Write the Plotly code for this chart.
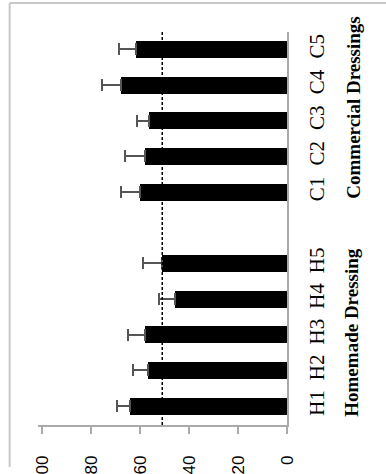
import plotly.graph_objects as go

# Sample groups and their mean scores with upper error (SD)
homemade_labels = ["H1", "H2", "H3", "H4", "H5"]
homemade_values = [64.3, 57.0, 58.2, 45.6, 51.1]
homemade_errors = [5.4, 6.1, 6.7, 6.7, 7.9]

commercial_labels = ["C1", "C2", "C3", "C4", "C5"]
commercial_values = [60.0, 58.2, 56.4, 67.9, 61.9]
commercial_errors = [7.9, 8.1, 5.1, 7.9, 6.8]

reference_level = 51.0
value_ticks = [0, 20, 40, 60, 80, 100]

# Positions: homemade 0..4, a blank slot, commercial 6..10
labels = homemade_labels + commercial_labels
positions = list(range(len(homemade_labels))) + [
    len(homemade_labels) + 1 + i for i in range(len(commercial_labels))
]
values = homemade_values + commercial_values
errors = homemade_errors + commercial_errors

W, H = 386, 474
L, R, T, B = 38.3, 286.7, 32, 425
pw, ph = R - L, B - T


def px(x):
    return (x - L) / pw


def py(y):
    return (B - y) / ph


fig = go.Figure()
fig.add_trace(go.Bar(
    x=values,
    y=positions,
    orientation="h",
    width=0.48,
    marker=dict(color="black", line=dict(width=0)),
    error_x=dict(type="data", array=errors, arrayminus=[0] * len(errors),
                 symmetric=False, color="#555555", thickness=2, width=6),
    showlegend=False,
))

# Dashed reference line across the full category span
fig.add_shape(type="line", xref="x", yref="paper",
              x0=reference_level, x1=reference_level, y0=0, y1=1,
              line=dict(color="black", width=1.5, dash="3px,2px"))

# Outer frame (left and top edges)
frame = dict(color="#c8c8c8", width=2)
fig.add_shape(type="line", xref="paper", yref="paper",
              x0=px(10), x1=px(10), y0=py(3), y1=py(467), line=frame)
fig.add_shape(type="line", xref="paper", yref="paper",
              x0=px(10), x1=px(400), y0=py(3), y1=py(3), line=frame)

group_font = dict(family="Liberation Serif", size=19, color="black")
fig.add_annotation(text="<b>Homemade Dressing</b>", xref="paper", yref="y",
                   x=px(351), y=2.07, textangle=-90, showarrow=False,
                   font=group_font, xanchor="center", yanchor="middle")
fig.add_annotation(text="<b>Commercial Dressings</b>", xref="paper", yref="y",
                   x=px(353), y=8.38, textangle=-90, showarrow=False,
                   font=group_font, xanchor="center", yanchor="middle")

fig.update_layout(
    width=W, height=H,
    margin=dict(l=L, r=W - R, t=T, b=H - B, pad=0, autoexpand=False),
    paper_bgcolor="white", plot_bgcolor="white",
    bargap=0,
    xaxis=dict(
        range=[101.8, 0], tickvals=value_ticks,
        ticktext=[str(v) for v in value_ticks],
        tickangle=-90, ticks="outside", ticklen=7, tickwidth=1.5,
        tickcolor="#aaaaaa", showline=True, linecolor="#aaaaaa", linewidth=1.5,
        showgrid=False, zeroline=False, automargin=False,
        tickfont=dict(family="Liberation Sans", size=17, color="black"),
        ticklabelstandoff=15,
    ),
    yaxis=dict(
        range=[-0.53, 10.49], side="right",
        tickvals=positions, ticktext=labels, tickangle=-90,
        ticks="", showline=True, linecolor="#aaaaaa", linewidth=1.5,
        showgrid=False, zeroline=False, automargin=False,
        tickfont=dict(family="Liberation Serif", size=21, color="black"),
        ticklabelstandoff=10,
    ),
)

fig.write_html("out.html")
